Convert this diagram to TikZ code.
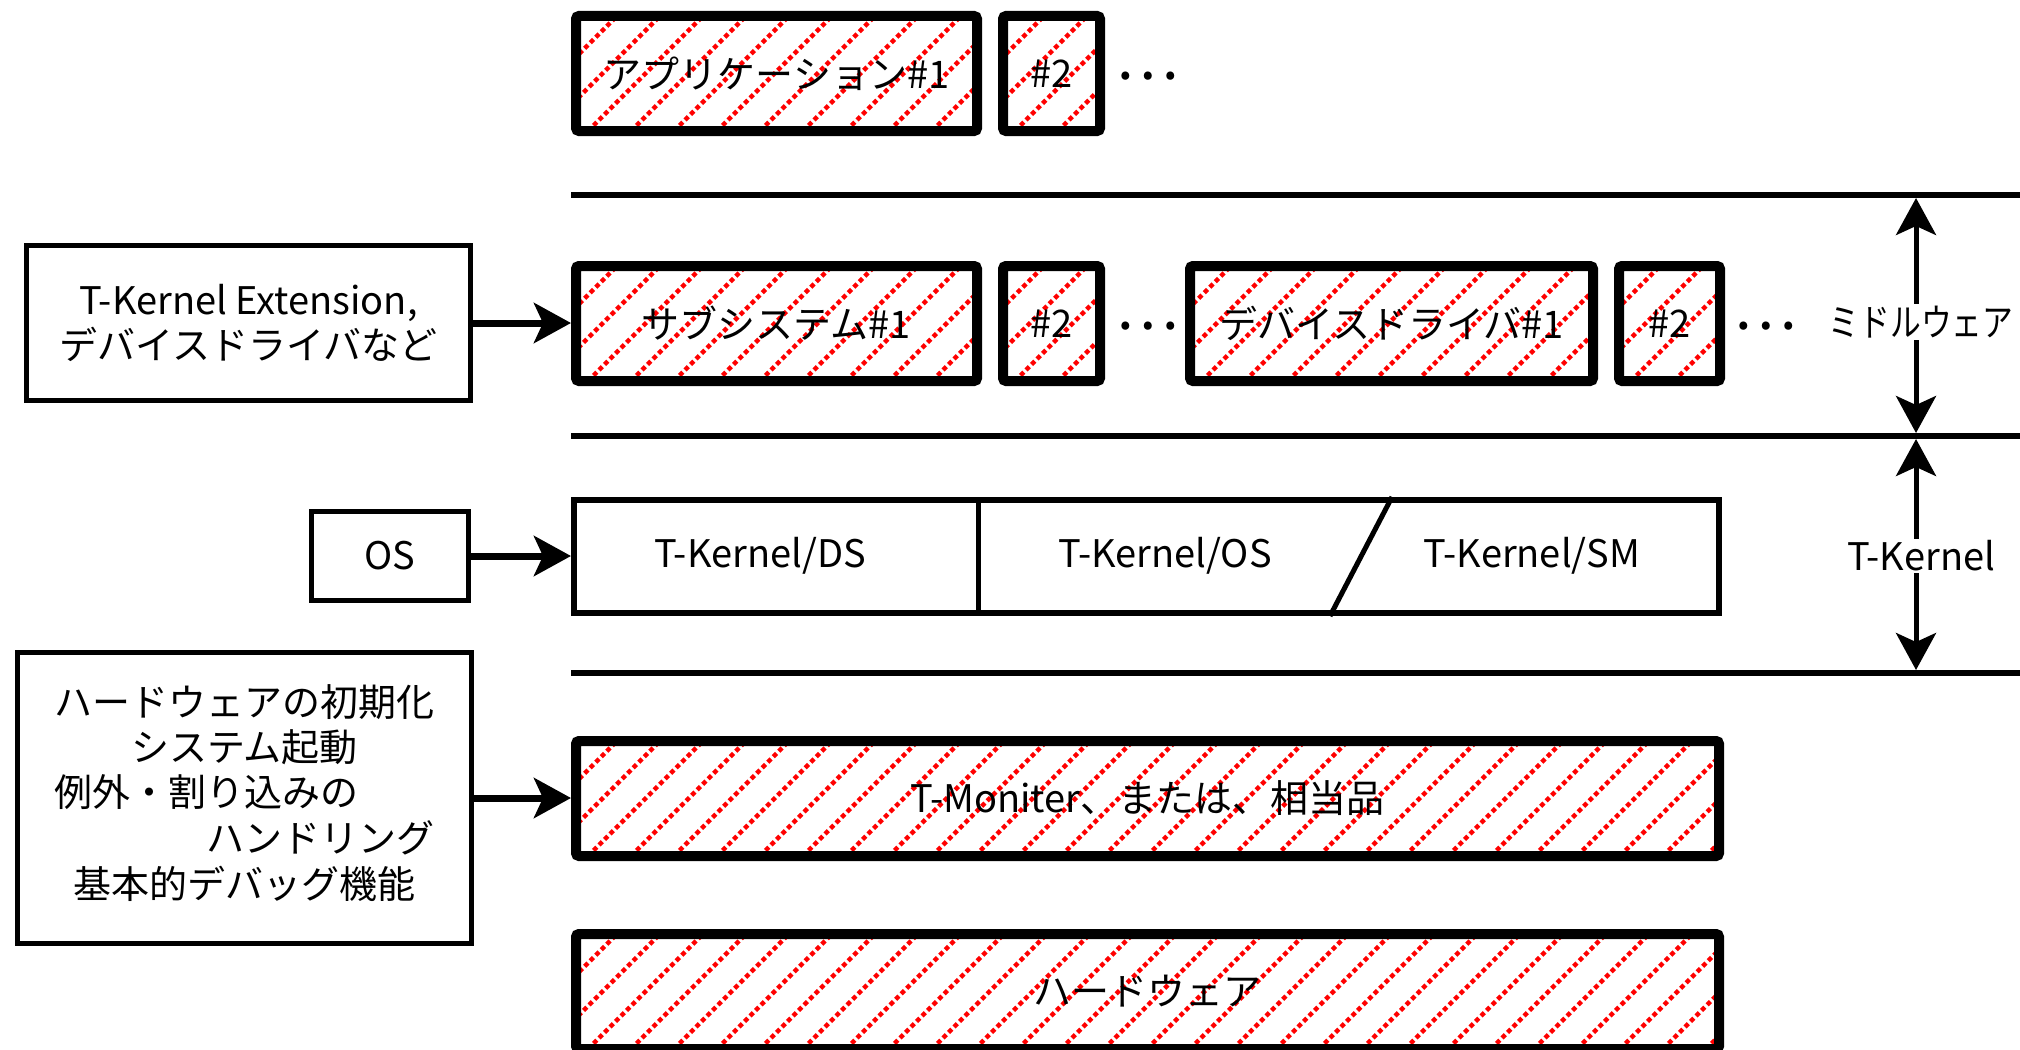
\documentclass[tikz,border=0pt]{standalone}
\usepackage{fontspec}
\usepackage{graphicx}
\setmainfont{Noto Sans CJK JP}
\usetikzlibrary{arrows.meta}
\tikzset{
  txt/.style={font=\fontsize{38}{45}\selectfont, inner sep=0pt},
  dotstxt/.style={font=\fontsize{60}{60}\selectfont, inner sep=0pt},
  hatched/.style={draw, line width=10pt, rounded corners=3pt, fill=white, inner sep=0pt,
    font=\fontsize{38}{45}\selectfont,
    path picture={
      \foreach \k in {0,...,33}{
        \draw[red, line width=4.5pt, dash pattern=on 4.6pt off 3.2pt, rounded corners=0pt]
          ([xshift=\k*43pt-160pt]path picture bounding box.south west) -- ++(300pt,300pt);
      }}},
  plainbox/.style={draw, line width=5pt, fill=white, inner sep=0pt, align=center,
    font=\fontsize{38}{45}\selectfont},
  feed/.style={line width=7pt, -{Stealth[length=37pt,width=40pt,inset=9pt]}},
  span/.style={line width=5pt, {Stealth[length=37pt,width=40pt,inset=9pt]}-{Stealth[length=37pt,width=40pt,inset=9pt]}},
  layerline/.style={line width=6pt},
}
\begin{document}
\begin{tikzpicture}[x=1pt,y=-1pt]
\useasboundingbox (0,0) rectangle (2020,1049);
\clip (0,0) rectangle (2020,1049);

% layer lines
\coordinate (l1a) at (571,195); \coordinate (l1b) at (2025,195);
\coordinate (l2a) at (571,436); \coordinate (l2b) at (2025,436);
\coordinate (l3a) at (571,673); \coordinate (l3b) at (2025,673);
\draw[layerline] (l1a) -- (l1b);
\draw[layerline] (l2a) -- (l2b);
\draw[layerline] (l3a) -- (l3b);

% application row
\node[hatched, minimum width=401pt, minimum height=115pt] (app1) at (776.5,73.5) {アプリケーション\#1};
\node[hatched, minimum width=97pt, minimum height=115pt] (app2) at (1051.5,73.5) {\#2};
\node[dotstxt] (dots1) at (1147,76) {…};

% middleware row
\node[hatched, minimum width=401pt, minimum height=115pt] (sub1) at (776.5,323.5) {サブシステム\#1};
\node[hatched, minimum width=97pt, minimum height=115pt] (sub2) at (1051.5,323.5) {\#2};
\node[dotstxt] (dots2) at (1147,326) {…};
\node[hatched, minimum width=403pt, minimum height=115pt] (dev1) at (1391.5,323.5) {デバイスドライバ\#1};
\node[hatched, minimum width=101pt, minimum height=115pt] (dev2) at (1669.5,323.5) {\#2};
\node[dotstxt] (dots3) at (1765,326) {…};

% T-Kernel row
\node[draw, line width=6pt, fill=white, minimum width=1145pt, minimum height=113pt, inner sep=0pt] (tk) at (1146.5,556.5) {};
\coordinate (dv) at (978,0);
\coordinate (st) at (1392,0);
\coordinate (sb) at (1330,0);
\draw[line width=5pt] (tk.north -| dv) -- (tk.south -| dv);
\draw[line width=5pt] (tk.north -| st) -- (tk.south -| sb);
\node[txt] (tds) at (760,556) {T-Kernel/DS};
\node[txt] (tos) at (1165,556) {T-Kernel/OS};
\node[txt] (tsm) at (1532,556) {T-Kernel/SM};

% monitor and hardware
\node[hatched, minimum width=1143pt, minimum height=115pt] (mon) at (1147.5,798.5) {T-Moniter、または、相当品};
\node[hatched, minimum width=1143pt, minimum height=115pt] (hw) at (1147.5,991.5) {ハードウェア};

% left boxes
\node[plainbox, minimum width=444pt, minimum height=155pt] (ext) at (248.5,323)
  {T-Kernel Extension,\\デバイスドライバなど};
\node[plainbox, minimum width=157pt, minimum height=89pt] (os) at (390,556) {OS};
\node[plainbox, minimum width=454pt, minimum height=291pt] (mon2) at (244.5,798)
  {\begin{tabular}{@{}c@{}}
   ハードウェアの初期化\\
   システム起動\\
   \multicolumn{1}{@{}l@{}}{例外・割り込みの}\\
   \multicolumn{1}{@{}r@{}}{ハンドリング}\\
   基本的デバッグ機能
   \end{tabular}};

\draw[feed] (ext.east) -- (sub1.west |- ext.east);
\draw[feed] (os.east) -- (tk.west |- os.east);
\draw[feed] (mon2.east) -- (mon.west |- mon2.east);

% span arrows
\coordinate (v1) at (1916,198);
\coordinate (v2) at (1916,433);
\coordinate (v3) at (1916,439);
\coordinate (v4) at (1916,670);
\draw[span] (v1) -- (v2);
\draw[span] (v3) -- (v4);
\node[txt, fill=white, inner ysep=2pt] (mw) at (1921,322) {\scalebox{0.81}[1]{ミドルウェア}};
\node[txt, fill=white, inner ysep=2pt] (tkl) at (1921,556) {T-Kernel};
\end{tikzpicture}
\end{document}
